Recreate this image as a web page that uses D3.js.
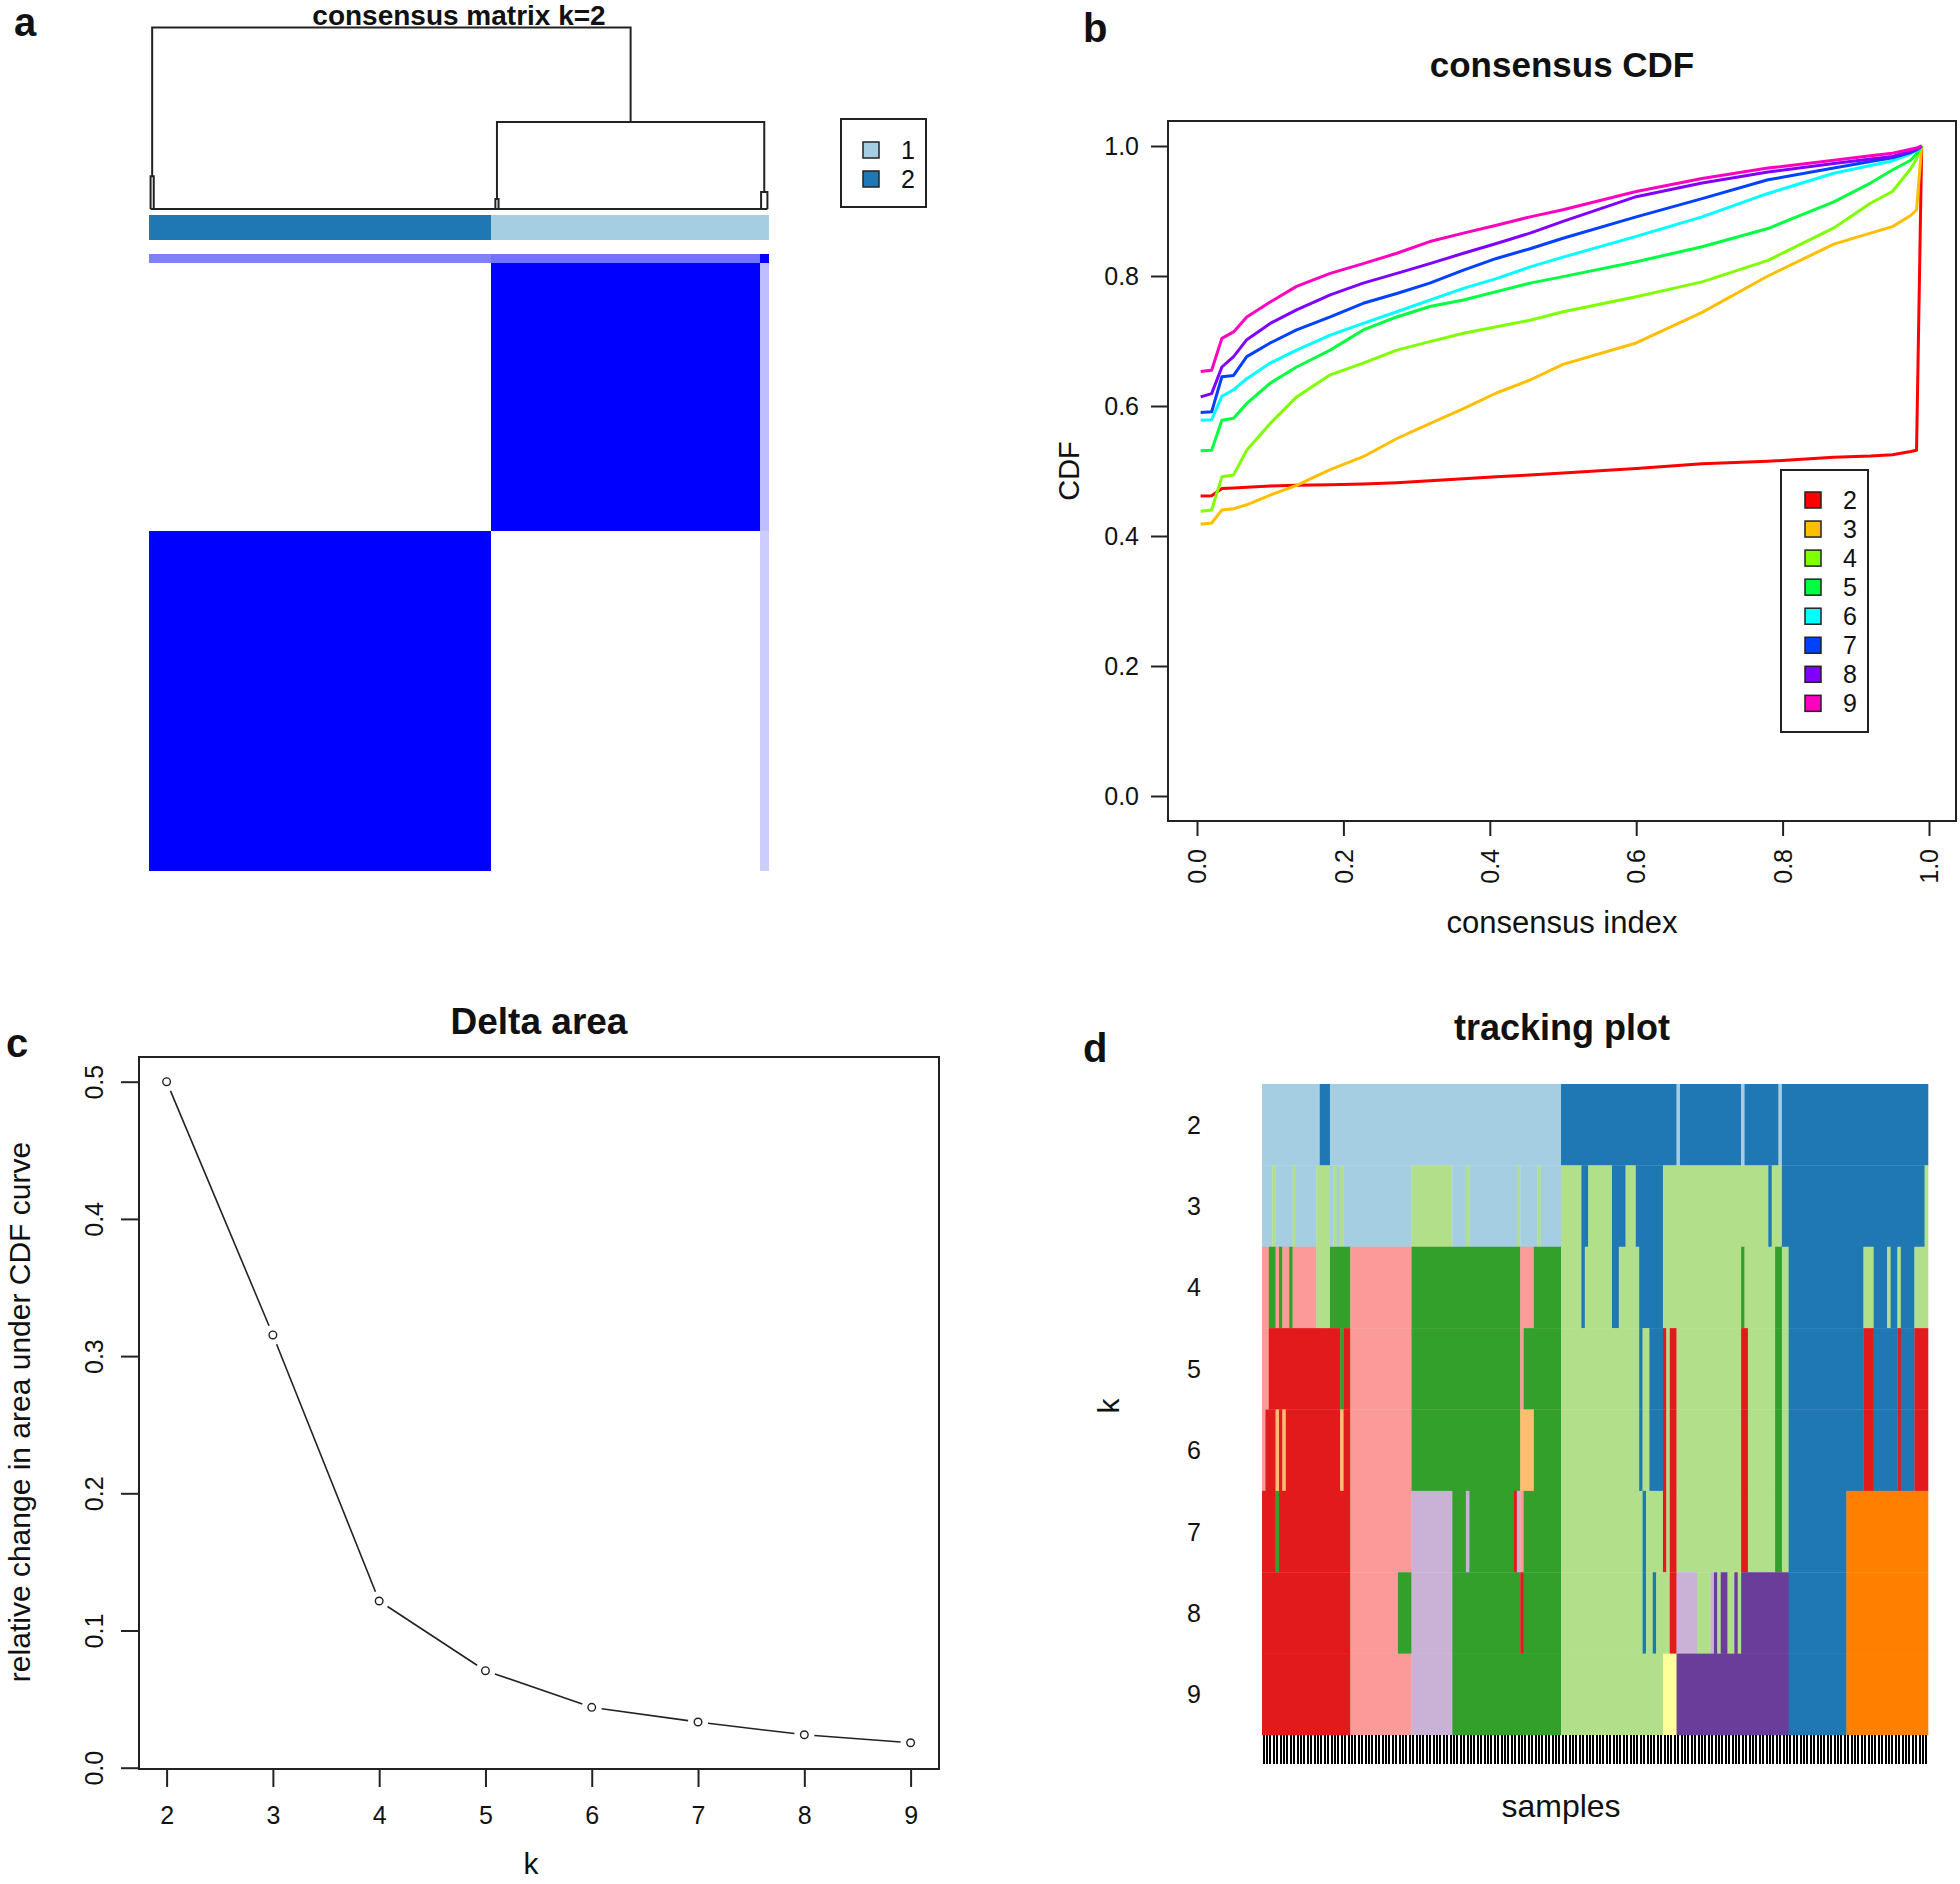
<!DOCTYPE html>
<html><head><meta charset="utf-8">
<script src="https://cdn.jsdelivr.net/npm/d3@7"></script>
<style>
body{margin:0;background:#fff;}
svg text{font-family:"Liberation Sans",Arial,Helvetica,sans-serif;fill:#111;}
</style></head><body>
<svg id="fig" width="1960" height="1884"></svg>
<script>
// ---------------- DATA ----------------
const sampleCount = 196;
// panel a: consensus matrix k=2
const groupSizes = [108, 85, 3];           // sample groups in dendrogram order
const groupCluster = [2, 1, 1];            // cluster of each group at k=2
// block consensus as drawn: rows = row group, cols = column group
const blockConsensus = [[1, 0, 0.2], [0, 1, 0.25], [0.5, 0.55, 1]];
const k2ClusterLabels = ["1", "2"];
const k2ClusterColors = ["#A6CEE3", "#1F78B4"];
const dendroMerges = [
  {id: "m1", left: 0.5, right: 1.5, height: 0.18},
  {id: "m2", left: 109.5, right: 110.5, height: 0.055},
  {id: "m3", left: 193.5, right: 195.5, height: 0.094},
  {id: "B", left: "m2", right: "m3", height: 0.48},
  {id: "root", left: "m1", right: "B", height: 1.0}
];
const leafBaseline = [0.5, 195.5];

// panel b: consensus CDF
const cdfK = [2, 3, 4, 5, 6, 7, 8, 9];
const cdfColors = ["#FF0000", "#FFBF00", "#80FF00", "#00FF40", "#00FFFF", "#0040FF", "#8000FF", "#FF00BF"];
const cdfX = [0.005,0.02,0.034,0.05,0.068,0.1,0.136,0.182,0.227,0.273,0.318,0.364,0.409,0.455,0.5,0.6,0.69,0.78,0.87,0.92,0.95,0.975,0.983,0.99];
const cdfK2 = [0.4615,0.462,0.473,0.474,0.475,0.477,0.478,0.479,0.480,0.482,0.485,0.488,0.491,0.494,0.497,0.504,0.511,0.515,0.521,0.523,0.525,0.530,0.532,1.0];
const cdfK3 = [0.418,0.420,0.440,0.442,0.448,0.463,0.478,0.502,0.522,0.550,0.573,0.596,0.620,0.640,0.664,0.697,0.744,0.800,0.849,0.866,0.876,0.893,0.902,1.0];
const cdfK4 = [0.438,0.440,0.491,0.494,0.532,0.573,0.614,0.648,0.666,0.686,0.699,0.712,0.722,0.732,0.745,0.768,0.791,0.824,0.874,0.912,0.930,0.965,0.980,1.0];
const cdfK5 = [0.531,0.532,0.578,0.581,0.604,0.635,0.660,0.686,0.717,0.737,0.753,0.763,0.776,0.789,0.799,0.822,0.845,0.873,0.914,0.943,0.963,0.978,0.988,1.0];
const cdfK6 = [0.578,0.579,0.615,0.625,0.642,0.666,0.686,0.709,0.727,0.745,0.763,0.781,0.796,0.814,0.829,0.861,0.891,0.927,0.958,0.970,0.977,0.988,0.993,1.0];
const cdfK7 = [0.590,0.591,0.645,0.647,0.676,0.697,0.717,0.737,0.758,0.773,0.789,0.809,0.827,0.842,0.858,0.891,0.919,0.948,0.966,0.976,0.982,0.990,0.994,1.0];
const cdfK8 = [0.614,0.619,0.660,0.676,0.702,0.727,0.748,0.771,0.789,0.804,0.819,0.835,0.850,0.866,0.884,0.922,0.943,0.960,0.973,0.980,0.984,0.992,0.995,1.0];
const cdfK9 = [0.653,0.655,0.704,0.714,0.737,0.760,0.784,0.804,0.819,0.835,0.853,0.866,0.878,0.891,0.902,0.930,0.950,0.966,0.978,0.985,0.989,0.995,0.997,1.0];
const cdfYTicks = [0, 0.2, 0.4, 0.6, 0.8, 1.0];
const cdfXTicks = [0, 0.2, 0.4, 0.6, 0.8, 1.0];

// panel c: delta area
const deltaK = [2, 3, 4, 5, 6, 7, 8, 9];
const deltaArea = [0.500, 0.3154, 0.1215, 0.0707, 0.0440, 0.0333, 0.0240, 0.0182];
const deltaYTicks = [0, 0.1, 0.2, 0.3, 0.4, 0.5];

// panel d: tracking plot (cluster code, first sample, end sample)
const trackColors = {LB:"#A6CEE3", DB:"#1F78B4", LG:"#B2DF8A", G:"#33A02C", PK:"#FB9A99", R:"#E31A1C",
  LO:"#FDBF6F", O:"#FF7F00", LV:"#CAB2D6", P:"#6A3D9A", Y:"#FFFF99"};
const trackK = [2, 3, 4, 5, 6, 7, 8, 9];
const track2 = [["LB",0,17],["DB",17,20],["LB",20,88],["DB",88,122],["LB",122,123],["DB",123,141],["LB",141,142],["DB",142,152],["LB",152,153],["DB",153,196]];
const track3 = [["LB",0,3],["LG",3,4],["LB",4,9],["LG",9,10],["LB",10,16],["LG",16,20],["LB",20,21],["LG",21,22],["LB",22,23],["LG",23,24],["LB",24,44],["LG",44,56],["LB",56,60],["LG",60,61],["LB",61,75],["LG",75,76],["LB",76,81],["LG",81,82],["LB",82,88],["LG",88,94],["DB",94,96],["LG",96,103],["DB",103,107],["LG",107,110],["DB",110,118],["LG",118,149],["DB",149,150],["LG",150,153],["DB",153,195],["LG",195,196]];
const track4 = [["PK",0,2],["G",2,4],["PK",4,5],["G",5,6],["PK",6,8],["G",8,9],["PK",9,16],["LG",16,20],["G",20,26],["PK",26,44],["G",44,76],["PK",76,80],["G",80,88],["LG",88,94],["DB",94,95],["LG",95,103],["DB",103,105],["LG",105,111],["DB",111,118],["LG",118,141],["G",141,142],["LG",142,151],["G",151,153],["LG",153,155],["DB",155,177],["LG",177,180],["DB",180,184],["LG",184,185],["DB",185,187],["LG",187,188],["DB",188,192],["LG",192,196]];
const track5 = [["PK",0,2],["R",2,23],["G",23,24],["R",24,26],["PK",26,44],["G",44,76],["PK",76,77],["G",77,88],["LG",88,111],["DB",111,112],["LG",112,114],["DB",114,118],["R",118,119],["LG",119,120],["R",120,122],["LG",122,141],["R",141,143],["LG",143,151],["G",151,153],["LG",153,155],["DB",155,177],["R",177,180],["DB",180,187],["R",187,188],["DB",188,192],["R",192,196]];
const track6 = [["PK",0,1],["R",1,4],["LO",4,5],["R",5,6],["LO",6,7],["R",7,23],["LO",23,24],["R",24,26],["PK",26,44],["G",44,76],["LO",76,80],["G",80,88],["LG",88,111],["DB",111,112],["LG",112,114],["DB",114,118],["R",118,119],["LG",119,120],["R",120,122],["LG",122,141],["R",141,143],["LG",143,151],["G",151,153],["LG",153,155],["DB",155,177],["R",177,180],["DB",180,187],["R",187,188],["DB",188,192],["R",192,196]];
const track7 = [["R",0,4],["G",4,5],["R",5,26],["PK",26,44],["LV",44,56],["G",56,60],["LV",60,61],["G",61,74],["R",74,75],["LV",75,76],["PK",76,77],["G",77,88],["LG",88,112],["DB",112,113],["LG",113,118],["R",118,119],["LG",119,120],["R",120,122],["LG",122,141],["R",141,143],["LG",143,151],["G",151,153],["LG",153,155],["DB",155,172],["O",172,196]];
const track8 = [["R",0,26],["PK",26,40],["G",40,44],["LV",44,56],["G",56,76],["R",76,77],["G",77,88],["LG",88,112],["DB",112,113],["LG",113,115],["DB",115,116],["LG",116,120],["R",120,122],["LV",122,128],["LG",128,132],["LV",132,133],["P",133,134],["LG",134,135],["P",135,137],["LG",137,139],["P",139,140],["LG",140,141],["P",141,155],["DB",155,172],["O",172,196]];
const track9 = [["R",0,26],["PK",26,44],["LV",44,56],["G",56,88],["LG",88,118],["Y",118,122],["P",122,155],["DB",155,172],["O",172,196]];

// ---------------- DRAWING ----------------
const svg = d3.select("#fig");
const INK = "#222";

function txt(g, x, y, s, size, opts = {}) {
  const t = g.append("text").text(s)
    .attr("font-size", size)
    .attr("font-weight", opts.weight || "normal")
    .attr("text-anchor", opts.anchor || "middle");
  if (opts.rotate) {
    t.attr("transform", `translate(${x},${y}) rotate(${opts.rotate})`);
  } else {
    t.attr("x", x).attr("y", y);
  }
  return t;
}

// panel letters
[["a", 14, 36], ["b", 1083, 42], ["c", 6, 1057], ["d", 1083, 1062]].forEach(([l, x, y]) =>
  txt(svg, x, y, l, 40, {weight: "bold", anchor: "start"}));

// ======== Panel a ========
(function () {
  const g = svg.append("g");
  const xS = d3.scaleLinear().domain([0, sampleCount]).range([149, 769]);
  const yS = d3.scaleLinear().domain([0, sampleCount]).range([871, 254]);
  const hS = d3.scaleLinear().domain([0, 1]).range([209, 27.5]);
  const starts = groupSizes.map((d, i) => d3.sum(groupSizes.slice(0, i)));
  const groups = groupSizes.map((n, i) => ({i, start: starts[i], end: starts[i] + n, cluster: groupCluster[i]}));
  const col = d3.interpolateRgb("#FFFFFF", "#0000FF");

  // matrix blocks
  const blocks = [];
  groups.forEach(r => groups.forEach(c => blocks.push({r, c, v: blockConsensus[r.i][c.i]})));
  g.selectAll("rect.blk").data(blocks).join("rect")
    .attr("x", d => xS(d.c.start)).attr("width", d => xS(d.c.end) - xS(d.c.start))
    .attr("y", d => yS(d.r.end)).attr("height", d => yS(d.r.start) - yS(d.r.end))
    .attr("fill", d => col(d.v)).attr("shape-rendering", "crispEdges");

  // cluster colour bar
  g.selectAll("rect.bar").data(groups).join("rect")
    .attr("x", d => xS(d.start)).attr("width", d => xS(d.end) - xS(d.start))
    .attr("y", 215).attr("height", 25)
    .attr("fill", d => k2ClusterColors[d.cluster - 1]).attr("shape-rendering", "crispEdges");

  // dendrogram
  const byId = {};
  const pos = v => (typeof v === "string" ? byId[v] : {x: v, h: 0});
  const lg = g.append("g").attr("stroke", INK).attr("stroke-width", 2).attr("fill", "none");
  lg.append("line").attr("x1", xS(leafBaseline[0])).attr("x2", xS(leafBaseline[1]))
    .attr("y1", hS(0)).attr("y2", hS(0));
  dendroMerges.forEach(m => {
    const L = pos(m.left), R = pos(m.right);
    lg.append("path").attr("d",
      `M${xS(L.x)},${hS(L.h)}V${hS(m.height)}H${xS(R.x)}V${hS(R.h)}`);
    byId[m.id] = {x: (L.x + R.x) / 2, h: m.height};
  });

  txt(g, 459, 25, "consensus matrix k=2", 28, {weight: "bold"});

  // legend
  g.append("rect").attr("x", 841).attr("y", 119).attr("width", 85).attr("height", 88)
    .attr("fill", "none").attr("stroke", INK).attr("stroke-width", 2);
  k2ClusterLabels.forEach((l, i) => {
    g.append("rect").attr("x", 863).attr("y", 142 + i * 29).attr("width", 16).attr("height", 16)
      .attr("fill", k2ClusterColors[i]).attr("stroke", INK).attr("stroke-width", 1.5);
    txt(g, 908, 159 + i * 29, l, 25);
  });
})();

// ======== Panel b ========
(function () {
  const g = svg.append("g");
  const x = d3.scaleLinear().domain([0, 1]).range([1197, 1929]);
  const y = d3.scaleLinear().domain([0, 1]).range([796, 146]);
  const series = [cdfK2, cdfK3, cdfK4, cdfK5, cdfK6, cdfK7, cdfK8, cdfK9];
  const line = d3.line().x((d, i) => x(cdfX[i])).y(d => y(d));
  g.selectAll("path.cdf").data(series).join("path")
    .attr("d", line).attr("fill", "none")
    .attr("stroke", (d, i) => cdfColors[i]).attr("stroke-width", 3).attr("stroke-linejoin", "round");

  g.append("rect").attr("x", 1168).attr("y", 121).attr("width", 788).attr("height", 700)
    .attr("fill", "none").attr("stroke", INK).attr("stroke-width", 2);

  const ay = g.append("g").attr("transform", "translate(1168,0)")
    .call(d3.axisLeft(y).tickValues(cdfYTicks).tickFormat(d3.format(".1f")).tickSize(17).tickPadding(12));
  const ax = g.append("g").attr("transform", "translate(0,821)")
    .call(d3.axisBottom(x).tickValues(cdfXTicks).tickFormat(d3.format(".1f")).tickSize(15));
  [ay, ax].forEach(a => {
    a.select(".domain").remove();
    a.selectAll("line").attr("stroke", INK).attr("stroke-width", 2);
    a.selectAll("text").attr("font-size", 25).attr("fill", "#111");
  });
  ax.selectAll("text").attr("transform", "rotate(-90)").attr("text-anchor", "end")
    .attr("x", -28).attr("y", 0).attr("dy", "0.35em");

  txt(g, 1562, 77, "consensus CDF", 35, {weight: "bold"});
  txt(g, 1562, 933, "consensus index", 31);
  txt(g, 1079, 471, "CDF", 29, {rotate: -90});

  // legend
  g.append("rect").attr("x", 1781).attr("y", 470).attr("width", 87).attr("height", 262)
    .attr("fill", "none").attr("stroke", INK).attr("stroke-width", 2);
  cdfK.forEach((k, i) => {
    const cy = 500 + i * 29.05;
    g.append("rect").attr("x", 1805).attr("y", cy - 8).attr("width", 16).attr("height", 16)
      .attr("fill", cdfColors[i]).attr("stroke", INK).attr("stroke-width", 1.5);
    txt(g, 1850, cy + 9, String(k), 25);
  });
})();

// ======== Panel c ========
(function () {
  const g = svg.append("g");
  const x = d3.scaleLinear().domain([2, 9]).range([166.6, 910.6]);
  const y = d3.scaleLinear().domain([0, 0.5]).range([1767.7, 1081.7]);
  const pts = deltaK.map((k, i) => [x(k), y(deltaArea[i])]);
  const gap = 10;
  const segs = d3.pairs(pts).map(([a, b]) => {
    const dx = b[0] - a[0], dy = b[1] - a[1], L = Math.hypot(dx, dy);
    const ux = dx / L, uy = dy / L;
    return [a[0] + ux * gap, a[1] + uy * gap, b[0] - ux * gap, b[1] - uy * gap];
  });
  g.selectAll("line.seg").data(segs).join("line")
    .attr("x1", d => d[0]).attr("y1", d => d[1]).attr("x2", d => d[2]).attr("y2", d => d[3])
    .attr("stroke", INK).attr("stroke-width", 1.6);
  g.selectAll("circle").data(pts).join("circle")
    .attr("cx", d => d[0]).attr("cy", d => d[1]).attr("r", 3.8)
    .attr("fill", "none").attr("stroke", INK).attr("stroke-width", 1.4);

  g.append("rect").attr("x", 139).attr("y", 1057).attr("width", 800).attr("height", 712)
    .attr("fill", "none").attr("stroke", INK).attr("stroke-width", 2);

  const ay = g.append("g").attr("transform", "translate(139,0)")
    .call(d3.axisLeft(y).tickValues(deltaYTicks).tickFormat(d3.format(".1f")).tickSize(18));
  const ax = g.append("g").attr("transform", "translate(0,1769)")
    .call(d3.axisBottom(x).tickValues(deltaK).tickFormat(d3.format("d")).tickSize(18).tickPadding(19));
  [ay, ax].forEach(a => {
    a.select(".domain").remove();
    a.selectAll("line").attr("stroke", INK).attr("stroke-width", 2);
    a.selectAll("text").attr("font-size", 25).attr("fill", "#111");
  });
  ay.selectAll("text").attr("x", null).attr("dy", null).attr("text-anchor", "middle")
    .attr("transform", "translate(-36,0) rotate(-90)");

  txt(g, 539, 1034, "Delta area", 37, {weight: "bold"});
  txt(g, 531, 1874, "k", 30);
  txt(g, 30, 1412, "relative change in area under CDF curve", 30, {rotate: -90});
})();

// ======== Panel d ========
(function () {
  const g = svg.append("g");
  const x = d3.scaleLinear().domain([0, sampleCount]).range([1262, 1928]);
  const y = d3.scaleBand().domain(trackK).range([1084, 1735]);
  const rows = [track2, track3, track4, track5, track6, track7, track8, track9];
  rows.forEach((runs, ri) => {
    const k = trackK[ri];
    g.append("g").selectAll("rect").data(runs).join("rect")
      .attr("x", d => x(d[1])).attr("width", d => x(d[2]) - x(d[1]) + 0.3)
      .attr("y", y(k)).attr("height", y.bandwidth() + 0.3)
      .attr("fill", d => trackColors[d[0]]);
  });
  // sample ticks
  g.append("g").selectAll("line").data(d3.range(sampleCount)).join("line")
    .attr("x1", i => x(i + 0.5)).attr("x2", i => x(i + 0.5))
    .attr("y1", 1735).attr("y2", 1764)
    .attr("stroke", "#000").attr("stroke-width", 2).attr("shape-rendering", "crispEdges");
  trackK.forEach(k => txt(g, 1194, y(k) + y.bandwidth() / 2 + 9, String(k), 25));

  txt(g, 1562, 1040, "tracking plot", 36, {weight: "bold"});
  txt(g, 1561, 1817, "samples", 32);
  txt(g, 1119, 1406, "k", 30, {rotate: -90});
})();
</script>
</body></html>
